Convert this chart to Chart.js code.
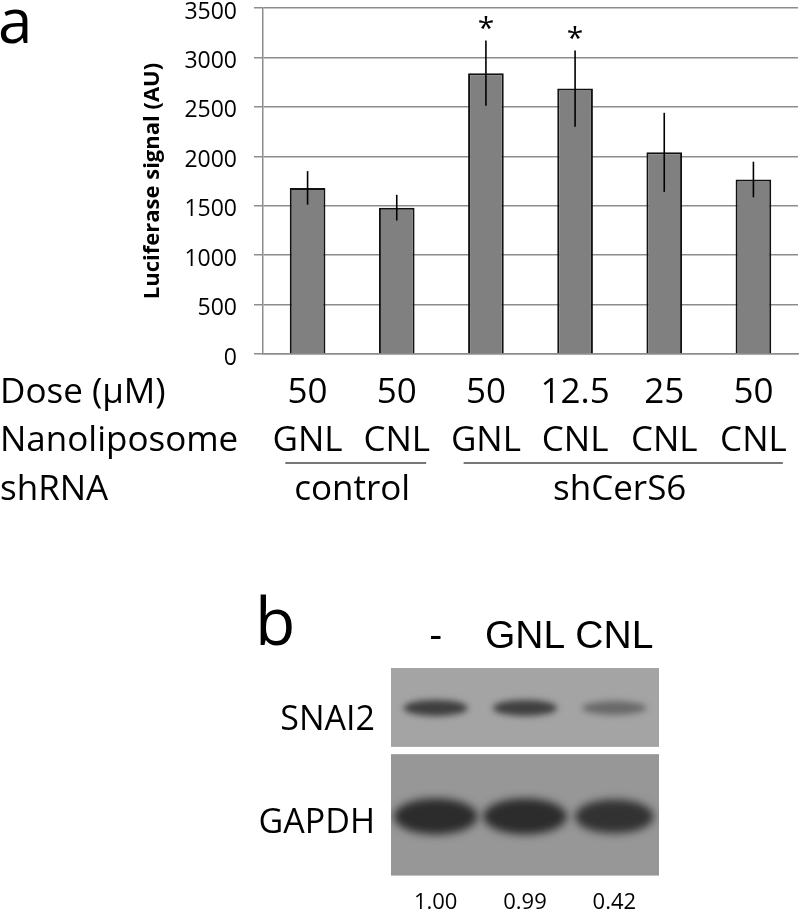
<!DOCTYPE html>
<html>
<head>
<meta charset="utf-8">
<script src="https://cdn.jsdelivr.net/npm/chart.js@4.4.1/dist/chart.umd.min.js"></script>
<style>
    body { margin: 0; background: #fff; }
    #wrap { position: relative; width: 800px; height: 912px; }
    #chartA { position: absolute; left: 0; top: 0; }
    #chartB { position: absolute; left: 0; top: 560px; }
</style>
</head>
<body>
<div id="wrap">
    <canvas id="chartA" width="800" height="520"></canvas>
    <canvas id="chartB" width="800" height="352"></canvas>
</div>
<script>
// panel a data
const doses = ['50', '50', '50', '12.5', '25', '50'];
const liposomes = ['GNL', 'CNL', 'GNL', 'CNL', 'CNL', 'CNL'];
const shrna = ['control', 'control', 'shCerS6', 'shCerS6', 'shCerS6', 'shCerS6'];
const luciferase = [1680, 1480, 2840, 2685, 2040, 1765];
const luciferaseErr = [170, 130, 330, 385, 400, 180];
const significant = [false, false, true, true, false, false];
const rowHeaders = ['Dose (\u03bcM)', 'Nanoliposome', 'shRNA'];

// panel b data
const lanes = ['-', 'GNL', 'CNL'];
const blotRows = ['SNAI2', 'GAPDH'];
const snai2Signal = [1.00, 0.99, 0.42];
const gapdhSignal = [1.00, 1.00, 0.94];
const ratios = ['1.00', '0.99', '0.42'];

const FONT = "'Open Sans', sans-serif";
const GRID = '#8c8c8c';

const panelAExtras = {
    id: 'panelAExtras',
    afterDraw(chart) {
        const ctx = chart.ctx;
        const x = chart.scales.x, y = chart.scales.y;
        ctx.save();

        // error bars + asterisks
        ctx.strokeStyle = '#000';
        ctx.lineWidth = 1.6;
        luciferase.forEach((v, i) => {
            const px = x.getPixelForValue(i);
            const top = y.getPixelForValue(v + luciferaseErr[i]);
            ctx.beginPath();
            ctx.moveTo(px, y.getPixelForValue(v - luciferaseErr[i]));
            ctx.lineTo(px, top);
            ctx.stroke();
            if (significant[i]) {
                ctx.fillStyle = '#000';
                ctx.font = '30px ' + FONT;
                ctx.textAlign = 'center';
                ctx.textBaseline = 'alphabetic';
                ctx.fillText('*', px, top - 3);
            }
        });

        // panel letter
        ctx.fillStyle = '#000';
        ctx.font = '62px ' + FONT;
        ctx.textAlign = 'left';
        ctx.textBaseline = 'alphabetic';
        ctx.fillText('a', -2, 43);

        // row headers
        ctx.font = '35px ' + FONT;
        ctx.textBaseline = 'middle';
        const rowY = [x.top + 39, x.top + 87, x.top + 136];
        rowHeaders.forEach((t, i) => ctx.fillText(t, 0, rowY[i]));

        // group lines and labels
        const w = x.getPixelForValue(1) - x.getPixelForValue(0);
        const groups = [...new Set(shrna)];
        groups.forEach(g => {
            const first = shrna.indexOf(g), last = shrna.lastIndexOf(g);
            const x0 = x.getPixelForValue(first) - 0.25 * w;
            const x1 = x.getPixelForValue(last) + 0.33 * w;
            ctx.strokeStyle = '#777';
            ctx.lineWidth = 2;
            ctx.beginPath();
            ctx.moveTo(x0, x.top + 109);
            ctx.lineTo(x1, x.top + 109);
            ctx.stroke();
            ctx.textAlign = 'center';
            const mid = (x.getPixelForValue(first) + x.getPixelForValue(last)) / 2;
            ctx.fillText(g, mid, rowY[2]);
        });
        ctx.restore();
    }
};

new Chart(document.getElementById('chartA'), {
    type: 'bar',
    data: {
        labels: doses.map((d, i) => [d, liposomes[i]]),
        datasets: [{
            data: luciferase,
            backgroundColor: '#808080',
            borderColor: '#111',
            borderWidth: 2,
            barPercentage: 0.4,
            categoryPercentage: 1.0,
        }]
    },
    options: {
        responsive: false,
        animation: false,
        layout: { padding: { top: 8, right: 2, left: 0, bottom: 0 } },
        plugins: { legend: { display: false }, tooltip: { enabled: false } },
        scales: {
            x: {
                grid: { display: false, drawTicks: false },
                border: { display: true, color: GRID, width: 1.5 },
                ticks: {
                    color: '#000',
                    font: { family: FONT, size: 35, lineHeight: 1.37 },
                    padding: 15,
                    maxRotation: 0,
                    autoSkip: false,
                },
                afterFit: (s) => { s.height = 166; s.paddingLeft = 0; s.paddingRight = 0; },
            },
            y: {
                min: 0,
                max: 3500,
                ticks: {
                    stepSize: 500,
                    color: '#000',
                    font: { family: FONT, size: 23 },
                    padding: 17,
                    labelOffset: 4,
                    callback: (v) => String(v),
                },
                grid: { color: GRID, lineWidth: 1.5, tickLength: 9 },
                border: { color: GRID, width: 1.5 },
                title: {
                    display: true,
                    text: 'Luciferase signal (AU)',
                    color: '#000',
                    font: { family: FONT, size: 22, weight: 'bold' },
                    padding: { top: 140, bottom: 0 },
                },
                afterFit: (s) => { s.width = 263; s.paddingTop = 0; s.paddingBottom = 0; },
            },
        },
    },
    plugins: [panelAExtras],
});

const blotPlugin = {
    id: 'blot',
    beforeDraw(chart) {
        const ctx = chart.ctx;
        const x = chart.scales.x, y = chart.scales.y;
        const w = x.getPixelForValue(1) - x.getPixelForValue(0);
        const left = chart.chartArea.left, right = chart.chartArea.right;
        ctx.save();

        ctx.fillStyle = '#000';
        ctx.font = '66px ' + FONT;
        ctx.textBaseline = 'alphabetic';
        ctx.fillText('b', 255, 85);

        // membranes
        const sTop = y.getPixelForValue(-0.5), sBot = y.getPixelForValue(0.26);
        const gTop = y.getPixelForValue(0.33), gBot = y.getPixelForValue(1.5);
        ctx.fillStyle = '#a4a4a4';
        ctx.fillRect(left, sTop, right - left, sBot - sTop);
        ctx.fillStyle = '#979797';
        ctx.fillRect(left, gTop, right - left, gBot - gTop);

        // SNAI2 bands
        ctx.save();
        ctx.beginPath();
        ctx.rect(left, sTop, right - left, sBot - sTop);
        ctx.clip();
        ctx.filter = 'blur(3px)';
        snai2Signal.forEach((s, i) => {
            const cx = x.getPixelForValue(i);
            ctx.fillStyle = `rgba(45,45,45,${0.25 + 0.6 * s})`;
            ctx.beginPath();
            ctx.ellipse(cx, y.getPixelForValue(-0.115), w * 0.36, 6 + 2 * s, 0, 0, Math.PI * 2);
            ctx.fill();
        });
        ctx.restore();

        // GAPDH bands
        ctx.save();
        ctx.beginPath();
        ctx.rect(left, gTop, right - left, gBot - gTop);
        ctx.clip();
        ctx.filter = 'blur(4px)';
        gapdhSignal.forEach((s, i) => {
            const cx = x.getPixelForValue(i);
            ctx.fillStyle = `rgba(38,38,38,${0.95 * s})`;
            ctx.beginPath();
            ctx.ellipse(cx, y.getPixelForValue(0.93), w * 0.47 * s, 18 * s, 0, 0, Math.PI * 2);
            ctx.fill();
        });
        ctx.restore();

        ctx.restore();
    }
};

new Chart(document.getElementById('chartB'), {
    type: 'bar',
    data: { labels: lanes, datasets: [] },
    options: {
        responsive: false,
        animation: false,
        layout: { padding: { top: 0, right: 141, left: 0, bottom: 0 } },
        plugins: { legend: { display: false }, tooltip: { enabled: false } },
        scales: {
            x: {
                position: 'top',
                offset: true,
                grid: { display: false, drawTicks: false },
                border: { display: false },
                ticks: {
                    color: '#000',
                    font: { family: "'Liberation Sans', Arial, sans-serif", size: 39 },
                    padding: 7,
                    maxRotation: 0,
                    minRotation: 0,
                    autoSkip: false,
                },
                afterFit: (s) => { s.height = 108 },
            },
            x2: {
                type: 'category',
                labels: ratios,
                position: 'bottom',
                offset: true,
                grid: { display: false, drawTicks: false },
                border: { display: false },
                ticks: { color: '#000', font: { family: FONT, size: 22 }, padding: 14, maxRotation: 0, autoSkip: false },
                afterFit: (s) => { s.height = 36 },
            },
            y: {
                type: 'category',
                labels: blotRows,
                offset: true,
                grid: { display: false, drawTicks: false },
                border: { display: false },
                ticks: { color: '#000', font: { family: FONT, size: 34 }, padding: 16 },
                afterFit: (s) => { s.width = 391 },
            },
        },
    },
    plugins: [blotPlugin],
});
</script>
</body>
</html>
